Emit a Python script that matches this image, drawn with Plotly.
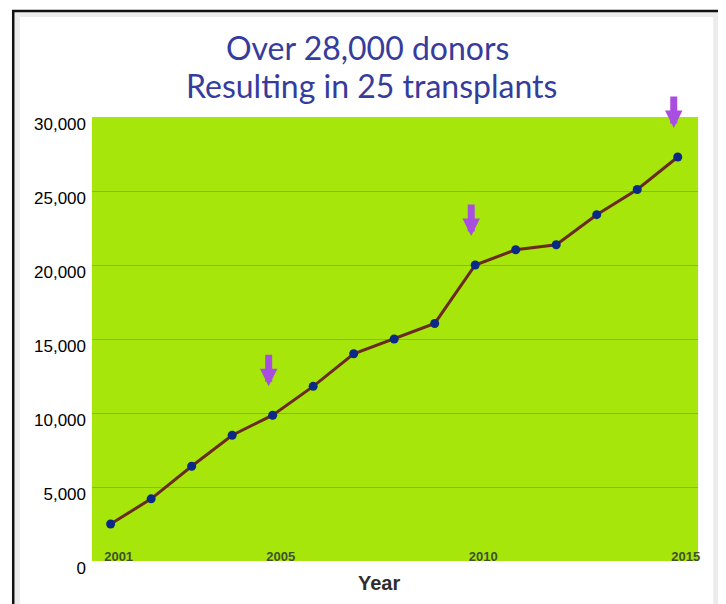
import plotly.graph_objects as go

years = [2001, 2002, 2003, 2004, 2005, 2006, 2007, 2008,
         2009, 2010, 2011, 2012, 2013, 2014, 2015]
donors = [2500, 4200, 6400, 8500, 9850, 11800, 14000, 15000,
          16050, 20000, 21030, 21370, 23400, 25100, 27300]
x_tick_years = [2001, 2005, 2010, 2015]
y_ticks = [0, 5000, 10000, 15000, 20000, 25000, 30000]
y_tick_labels = ["0", "5,000", "10,000", "15,000", "20,000", "25,000", "30,000"]
arrow_years = [2005, 2010, 2015]
title_lines = ["Over 28,000 donors", "Resulting in 25 transplants"]
x_title = "Year"

fig = go.Figure()
fig.add_trace(go.Scatter(
    x=years, y=donors, mode="lines+markers",
    line=dict(color="#6a2a1c", width=3),
    marker=dict(color="#0b2a86", size=9),
    showlegend=False, hoverinfo="x+y",
))

annotations = []
for yr in arrow_years:
    v = donors[years.index(yr)]
    annotations.append(dict(
        x=yr, y=v, xref="x", yref="y", text="", showarrow=True,
        ax=0, ay=-62, standoff=29, xshift=-4,
        arrowhead=2, arrowwidth=7, arrowsize=0.5, arrowcolor="#a94fe0",
    ))

title_font = dict(family="Lato, Open Sans, sans-serif", size=32, color="#363c9c")
annotations.append(dict(
    x=0.4538, y=1.157, xref="paper", yref="paper", text=title_lines[0],
    showarrow=False, xanchor="center", yanchor="middle", font=title_font,
))
annotations.append(dict(
    x=0.4604, y=1.0700, xref="paper", yref="paper", text=title_lines[1],
    showarrow=False, xanchor="center", yanchor="middle", font=title_font,
))
annotations.append(dict(
    x=0.4736, y=-0.0495, xref="paper", yref="paper", text="<b>" + x_title + "</b>",
    showarrow=False, xanchor="center", yanchor="middle",
    font=dict(family="Liberation Sans, Arial, sans-serif", size=20, color="#2e2e2e"),
))

shapes = [
    # soft inner shadow of the frame
    dict(type="path", xref="paper", yref="paper",
         path="M -0.124,-0.3 L -0.124,1.232 L 1.030,1.232 L 1.030,-0.3",
         line=dict(color="#ececec", width=6)),
    # black frame (bottom edge off-page)
    dict(type="path", xref="paper", yref="paper",
         path="M -0.1300,-0.3 L -0.1300,1.2387 L 1.0380,1.2387 L 1.0380,-0.3",
         line=dict(color="#111111", width=2.5)),
]

fig.update_layout(
    width=726, height=604,
    # the page body adds an 8px offset, compensated here
    margin=dict(l=84, r=36, t=109, b=51),
    paper_bgcolor="white",
    plot_bgcolor="#a6e60a",
    annotations=annotations,
    shapes=shapes,
    xaxis=dict(
        range=[2000.54, 2015.5],
        tickvals=x_tick_years,
        ticktext=[str(y) for y in x_tick_years],
        ticklabelposition="inside",
        ticklabeloverflow="allow",
        ticklabelshift=8,
        ticklabelstandoff=-6,
        showgrid=False, zeroline=False, showline=False, ticks="",
        tickfont=dict(family="Liberation Sans, sans-serif",
                      size=13, color="#3e5230", weight="bold"),
    ),
    yaxis=dict(
        range=[0, 30000],
        tickvals=y_ticks, ticktext=y_tick_labels,
        ticklabelshift=7,
        ticklabelstandoff=5,
        showgrid=True, gridcolor="rgba(90,120,60,0.4)", gridwidth=1,
        zeroline=False, showline=False, ticks="",
        tickfont=dict(family="Liberation Sans, Arial, sans-serif", size=17, color="#000000"),
    ),
)

fig.write_html("out.html")
